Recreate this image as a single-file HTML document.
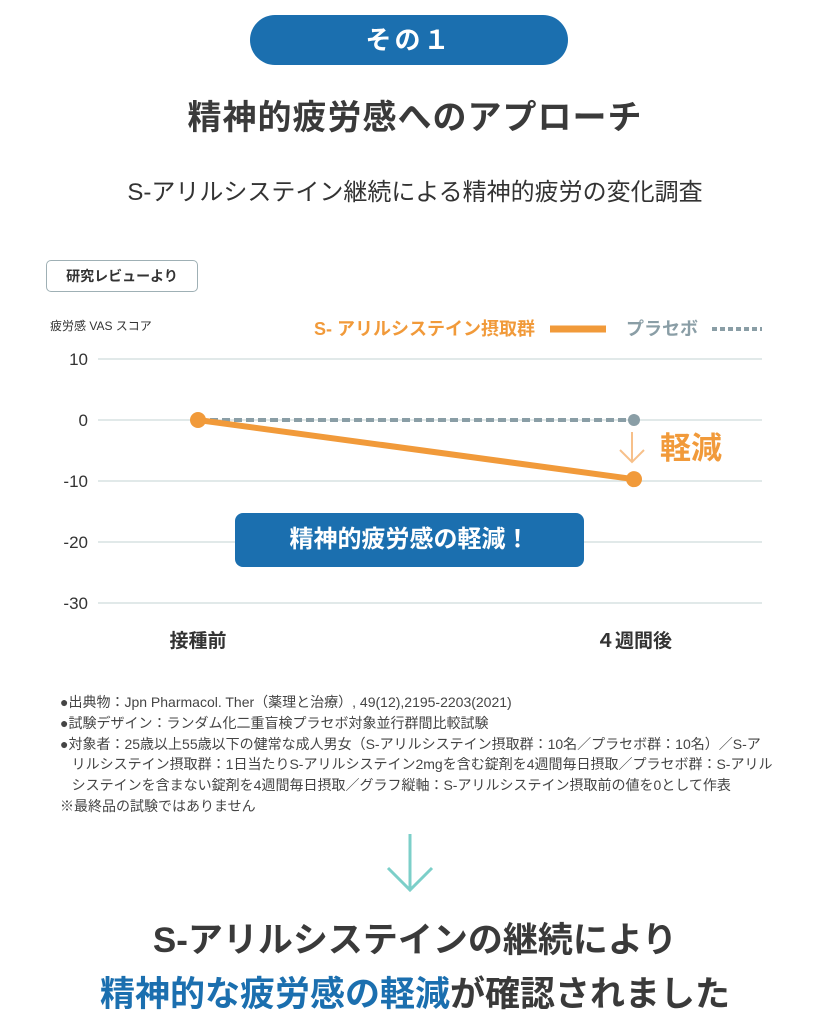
<!DOCTYPE html>
<html><head><meta charset="utf-8"><style>
body{margin:0;width:830px;height:1024px;background:#fff;font-family:"Liberation Sans","Noto Sans CJK JP",sans-serif;color:#333;position:relative;overflow:hidden}
.a{position:absolute}
</style></head><body>
<div class="a" style="left:250px;top:15px;width:318px;height:50px;border-radius:25px;background:#1b6faf;color:#fff;font-size:26px;font-weight:bold;text-align:center;line-height:50px;letter-spacing:3px">その１</div>
<div class="a" style="left:0;width:830px;top:90px;text-align:center;font-size:34px;font-weight:bold;color:#3a3a3a;letter-spacing:1px">精神的疲労感へのアプローチ</div>
<div class="a" style="left:0;width:830px;top:172px;text-align:center;font-size:24px;color:#333">S-アリルシステイン継続による精神的疲労の変化調査</div>
<div class="a" style="left:46px;top:260px;width:150px;height:30px;border:1.5px solid #9fb0b5;border-radius:5px;font-size:14px;font-weight:bold;line-height:30px;text-align:center;color:#333">研究レビューより</div>
<svg class="a" style="left:0;top:0" width="830" height="680">
<text x="50" y="330" font-size="12" fill="#333">疲労感 VAS スコア</text>
<text x="535" y="335" font-size="18" font-weight="bold" fill="#f19a3a" text-anchor="end">S- アリルシステイン摂取群</text>
<line x1="550" y1="329" x2="606" y2="329" stroke="#f19a3a" stroke-width="7"/>
<text x="626" y="335" font-size="18" font-weight="bold" fill="#8a9ea6">プラセボ</text>
<line x1="712" y1="329" x2="762" y2="329" stroke="#8a9ea6" stroke-width="4" stroke-dasharray="5,3"/>
<g id="grid"></g><g id="series"></g>
<text x="660" y="459" font-size="31" font-weight="bold" fill="#f19a3a">軽減</text>
<g stroke="#f7c08a" stroke-width="2" fill="none"><line x1="632" y1="432" x2="632" y2="462"/><polyline points="620,450 632,462 644,450"/></g>
</svg>
<div class="a" style="left:235px;top:513px;width:349px;height:54px;border-radius:8px;background:#1b6faf;color:#fff;font-size:24px;font-weight:bold;text-align:center;line-height:54px">精神的疲労感の軽減！</div>
<div class="a" style="left:60px;top:692px;width:720px;font-size:14px;line-height:20.8px;color:#444;white-space:nowrap">
●出典物：Jpn Pharmacol. Ther（薬理と治療）, 49(12),2195-2203(2021)<br>
●試験デザイン：ランダム化二重盲検プラセボ対象並行群間比較試験<br>
●対象者：25歳以上55歳以下の健常な成人男女（S-アリルシステイン摂取群：10名／プラセボ群：10名）／S-ア<br>
&nbsp;&nbsp;&nbsp;リルシステイン摂取群：1日当たりS-アリルシステイン2mgを含む錠剤を4週間毎日摂取／プラセボ群：S-アリル<br>
&nbsp;&nbsp;&nbsp;システインを含まない錠剤を4週間毎日摂取／グラフ縦軸：S-アリルシステイン摂取前の値を0として作表<br>
※最終品の試験ではありません</div>
<svg class="a" style="left:385px;top:832px" width="50" height="62"><g stroke="#7ccfc9" stroke-width="3" fill="none"><line x1="25" y1="2" x2="25" y2="58"/><polyline points="3,36 25,58 47,36"/></g></svg>
<div class="a" style="left:0;width:830px;top:912px;text-align:center;font-size:35px;font-weight:bold;color:#3a3a3a">S-アリルシステインの継続により</div>
<div class="a" style="left:0;width:830px;top:966px;text-align:center;font-size:35px;font-weight:bold;color:#3a3a3a"><span style="color:#1b6faf">精神的な疲労感の軽減</span>が確認されました</div>
<script>
const categories=["接種前","４週間後"];
const ascValues=[0,-9.7];
const placeboValues=[0,0];
const yTicks=[10,0,-10,-20,-30];
const ns="http://www.w3.org/2000/svg";
const y=v=>420-v*6.1;
const x=i=>198+i*436;
const grid=document.getElementById('grid'),ser=document.getElementById('series');
function mk(t,a,p){const e=document.createElementNS(ns,t);for(const k in a)e.setAttribute(k,a[k]);p.appendChild(e);return e;}
yTicks.forEach(t=>{
 const l=mk('line',{x1:98,x2:762,y1:y(t),y2:y(t),stroke:'#cfdcdc','stroke-width':1.2},grid);
 
 
 const tx=mk('text',{x:88,y:y(t)+6,'text-anchor':'end','font-size':17,fill:'#333'},grid);tx.textContent=t;
 
 
});
categories.forEach((c,i)=>{
 const tx=mk('text',{x:x(i),y:647,'text-anchor':'middle','font-size':19,'font-weight':'bold',fill:'#333'},grid);tx.textContent=c;
 
 
});
const pl=mk('polyline',{points:placeboValues.map((v,i)=>x(i)+','+y(v)).join(' '),fill:'none',stroke:'#8a9ea6','stroke-width':4,'stroke-dasharray':'8,4'},ser);


placeboValues.forEach((v,i)=>{const c=mk('circle',{cx:x(i),cy:y(v),r:6,fill:'#8a9ea6'},ser);
 
 });
const al=mk('polyline',{points:ascValues.map((v,i)=>x(i)+','+y(v)).join(' '),fill:'none',stroke:'#f19a3a','stroke-width':6},ser);


ascValues.forEach((v,i)=>{const c=mk('circle',{cx:x(i),cy:y(v),r:8,fill:'#f19a3a'},ser);
 
 });
</script>
</body></html>
